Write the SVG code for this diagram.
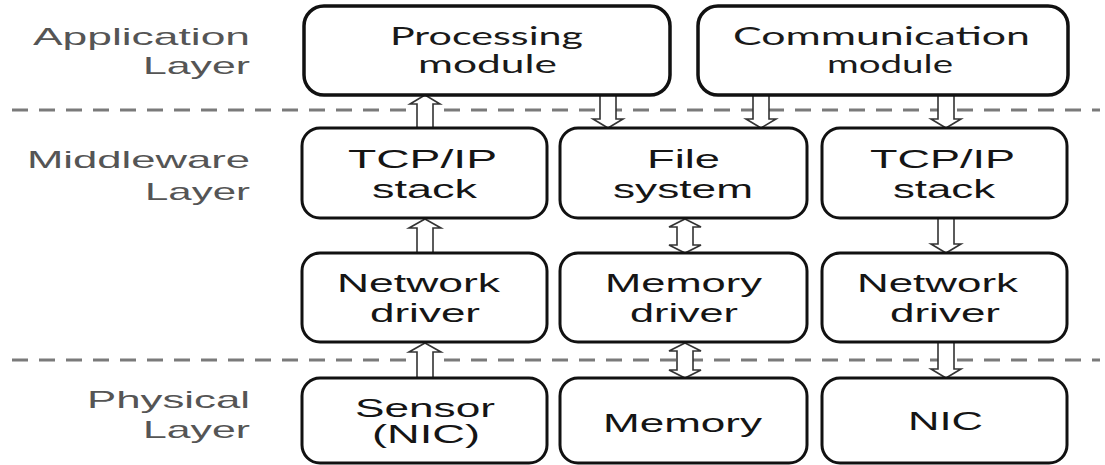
<svg xmlns="http://www.w3.org/2000/svg" width="1105" height="465" viewBox="0 0 1105 465">
<defs>
<style>
.sep{stroke:#7a7a7a;stroke-width:3;stroke-dasharray:16 11;fill:none}
.box{fill:#fff;stroke:#111;stroke-width:3}
.topbox{fill:#fff;stroke:#111;stroke-width:3.5}
.arr{fill:#fff;stroke:#333;stroke-width:1.6;stroke-linejoin:miter}
.lbl{font-family:"Liberation Sans",Arial,sans-serif;font-size:24px;fill:#555}
.t{font-family:"Liberation Sans",Arial,sans-serif;font-size:25px;fill:#151515}
.tc{font-family:Lato,"Open Sans",sans-serif;font-size:25px;fill:#1a1a1a}
</style>
</defs>
<rect width="1105" height="465" fill="#fff"/>
<g id="separators">
<line class="sep" x1="12" y1="110" x2="1100" y2="110"/>
<line class="sep" x1="12" y1="360" x2="1100" y2="360"/>
</g>
<g id="layer-labels">
<text class="lbl" x="33" y="45" textLength="217" lengthAdjust="spacingAndGlyphs">Application</text>
<text class="lbl" x="143" y="74" textLength="107" lengthAdjust="spacingAndGlyphs">Layer</text>
<text class="lbl" x="27" y="168" textLength="223" lengthAdjust="spacingAndGlyphs">Middleware</text>
<text class="lbl" x="145" y="200" textLength="105" lengthAdjust="spacingAndGlyphs">Layer</text>
<text class="lbl" x="87" y="408" textLength="163" lengthAdjust="spacingAndGlyphs">Physical</text>
<text class="lbl" x="143" y="438" textLength="107" lengthAdjust="spacingAndGlyphs">Layer</text>
</g>
<g id="connectors">
<path class="arr" d="M425,95 L440,104 L433,104 L433,128 L417,128 L417,104 L410,104 Z"/>
<path class="arr" d="M608,128 L623,119 L616,119 L616,95 L600,95 L600,119 L593,119 Z"/>
<path class="arr" d="M761,128 L776,119 L769,119 L769,95 L753,95 L753,119 L746,119 Z"/>
<path class="arr" d="M946,128 L961,119 L954,119 L954,95 L938,95 L938,119 L931,119 Z"/>
<path class="arr" d="M425,219 L441,228 L433,228 L433,253 L417,253 L417,228 L409,228 Z"/>
<path class="arr" d="M685,219 L701,227 L693,227 L693,245 L701,245 L685,253 L669,245 L677,245 L677,227 L669,227 Z"/>
<path class="arr" d="M946,253 L961,244 L954,244 L954,218 L938,218 L938,244 L931,244 Z"/>
<path class="arr" d="M425,343 L441,352 L433,352 L433,378 L417,378 L417,352 L409,352 Z"/>
<path class="arr" d="M685,343 L701,351 L693,351 L693,370 L701,370 L685,378 L669,370 L677,370 L677,351 L669,351 Z"/>
<path class="arr" d="M946,378 L961,369 L954,369 L954,342 L938,342 L938,369 L931,369 Z"/>
</g>
<g id="processing-module">
<rect class="topbox" x="304" y="6" width="366" height="89" rx="20"/>
<text class="tc" x="390" y="45" textLength="193" lengthAdjust="spacingAndGlyphs">Processing</text>
<text class="tc" x="418" y="73" textLength="139" lengthAdjust="spacingAndGlyphs">module</text>
</g>
<g id="communication-module">
<rect class="topbox" x="698" y="6" width="370" height="89" rx="20"/>
<text class="tc" x="733" y="45" textLength="297" lengthAdjust="spacingAndGlyphs">Communication</text>
<text class="tc" x="827" y="73" textLength="126" lengthAdjust="spacingAndGlyphs">module</text>
</g>
<g id="tcpip-stack-left">
<rect class="box" x="302" y="128" width="245" height="90" rx="18"/>
<text class="t" x="348" y="168" textLength="149" lengthAdjust="spacingAndGlyphs">TCP/IP</text>
<text class="t" x="372" y="198" textLength="105" lengthAdjust="spacingAndGlyphs">stack</text>
</g>
<g id="file-system">
<rect class="box" x="560" y="128" width="247" height="90" rx="18"/>
<text class="t" x="647" y="168" textLength="73" lengthAdjust="spacingAndGlyphs">File</text>
<text class="t" x="613" y="198" textLength="140" lengthAdjust="spacingAndGlyphs">system</text>
</g>
<g id="tcpip-stack-right">
<rect class="box" x="822" y="128" width="245" height="90" rx="18"/>
<text class="t" x="870" y="168" textLength="145" lengthAdjust="spacingAndGlyphs">TCP/IP</text>
<text class="t" x="893" y="198" textLength="102" lengthAdjust="spacingAndGlyphs">stack</text>
</g>
<g id="network-driver-left">
<rect class="box" x="302" y="253" width="245" height="89" rx="18"/>
<text class="t" x="337" y="292" textLength="163" lengthAdjust="spacingAndGlyphs">Network</text>
<text class="t" x="370" y="322" textLength="110" lengthAdjust="spacingAndGlyphs">driver</text>
</g>
<g id="memory-driver">
<rect class="box" x="560" y="253" width="247" height="89" rx="18"/>
<text class="t" x="605" y="292" textLength="157" lengthAdjust="spacingAndGlyphs">Memory</text>
<text class="t" x="630" y="322" textLength="108" lengthAdjust="spacingAndGlyphs">driver</text>
</g>
<g id="network-driver-right">
<rect class="box" x="822" y="253" width="245" height="89" rx="18"/>
<text class="t" x="857" y="292" textLength="161" lengthAdjust="spacingAndGlyphs">Network</text>
<text class="t" x="890" y="322" textLength="110" lengthAdjust="spacingAndGlyphs">driver</text>
</g>
<g id="sensor-nic">
<rect class="box" x="302" y="378" width="245" height="85" rx="18"/>
<text class="t" x="355" y="417" textLength="140" lengthAdjust="spacingAndGlyphs">Sensor</text>
<text class="t" x="372" y="443" textLength="108" lengthAdjust="spacingAndGlyphs">(NIC)</text>
</g>
<g id="memory">
<rect class="box" x="560" y="378" width="247" height="85" rx="18"/>
<text class="t" x="603" y="432" textLength="159" lengthAdjust="spacingAndGlyphs">Memory</text>
</g>
<g id="nic">
<rect class="box" x="822" y="378" width="245" height="85" rx="18"/>
<text class="t" x="908" y="430" textLength="75" lengthAdjust="spacingAndGlyphs">NIC</text>
</g>
</svg>
